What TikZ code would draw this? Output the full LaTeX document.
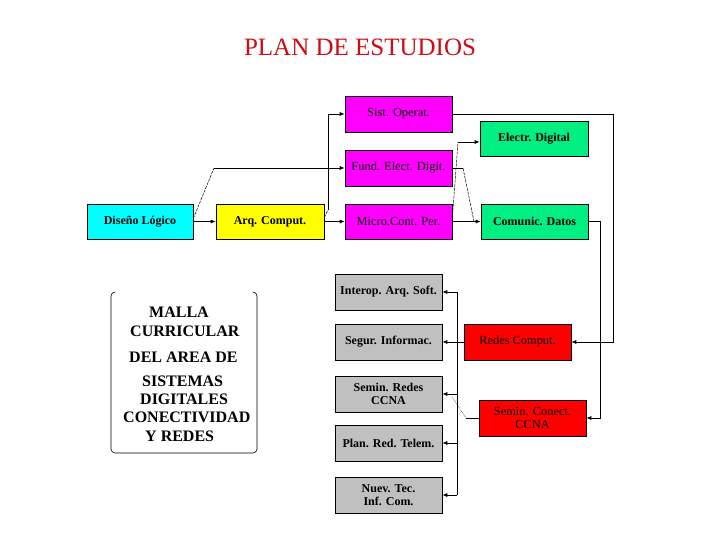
\documentclass[tikz,border=0pt]{standalone}
\usepackage{fontspec}
\setmainfont{Liberation Serif}
\usetikzlibrary{arrows.meta}
\definecolor{titred}{RGB}{205,12,20}
\definecolor{bcyan}{RGB}{0,255,255}
\definecolor{byellow}{RGB}{255,255,0}
\definecolor{bmag}{RGB}{255,0,255}
\definecolor{bgreen}{RGB}{0,238,130}
\definecolor{bred}{RGB}{255,0,0}
\definecolor{bgray}{RGB}{192,192,192}
\tikzset{
  box/.style={draw=black, line width=0.6pt, minimum width=107pt, minimum height=36pt,
    inner sep=1pt, align=center, font=\fontsize{12.4}{12.5}\selectfont},
  bbox/.style={box, font=\fontsize{12}{12.5}\selectfont\bfseries},
  conn/.style={line width=0.7pt},
  arr/.style={-{Latex[length=5pt,width=4pt]}, line width=0.7pt},
  diag/.style={line width=0.5pt, dash pattern=on 3pt off 1pt},
  malla/.style={anchor=base west, inner sep=0pt, font=\fontsize{16}{16}\selectfont\bfseries}
}
\begin{document}
\begin{tikzpicture}[x=1pt,y=-1pt]
\useasboundingbox (0,0) rectangle (720,540);
\node[anchor=base, text=titred, font=\fontsize{25}{26}\selectfont] (title) at (360,56) {PLAN DE ESTUDIOS};

% boxes
\node[bbox, fill=bcyan, minimum width=106pt, minimum height=35pt] (dis) at (140,221.5) {Diseño Lógico};
\node[bbox, fill=byellow, minimum width=108pt, minimum height=35pt] (arq) at (270,221.5) {Arq. Comput.};
\node[box, fill=bmag] (sist) at (398.5,114) {Sist. Operat.};
\node[box, fill=bmag] (fund) at (398.5,168) {Fund. Elect. Digit.};
\node[box, fill=bmag, minimum height=35pt] (micro) at (398.5,221.5) {Micro.Cont. Per.};
\node[bbox, fill=bgreen, minimum width=108pt, minimum height=35pt] (elec) at (534,138.5) {Electr. Digital};
\node[bbox, fill=bgreen, minimum height=35pt] (com) at (534.5,221.5) {Comunic. Datos};
\node[bbox, fill=bgray] (inter) at (388.5,292) {Interop. Arq. Soft.};
\node[bbox, fill=bgray] (segur) at (388.5,342) {Segur. Informac.};
\node[bbox, fill=bgray] (semr) at (388.5,394) {Semin. Redes\\CCNA};
\node[bbox, fill=bgray] (plan) at (388.5,443) {Plan. Red. Telem.};
\node[bbox, fill=bgray] (nuev) at (388.5,495) {Nuev. Tec.\\Inf. Com.};
\node[box, fill=bred] (redes) at (517.5,342) {Redes Comput.};
\node[box, fill=bred] (semc) at (532.5,418) {Semin. Conect.\\CCNA};

% malla box
\draw[line width=0.6pt, rounded corners=4pt] (115,292) -- (111,292) -- (111,453) -- (257,453) -- (257,292) -- (253,292);
\node[malla] (m1) at (149,317) {MALLA};
\node[malla] (m2) at (130,336) {CURRICULAR};
\node[malla] (m3) at (129,362) {DEL AREA DE};
\node[malla] (m4) at (142,386) {SISTEMAS};
\node[malla] (m5) at (140,404) {DIGITALES};
\node[malla] (m6) at (123,422) {CONECTIVIDAD};
\node[malla] (m7) at (145,441) {Y REDES};

% coordinates
\coordinate (c1) at (214,168);
\coordinate (c2) at (328,210);
\coordinate (c3) at (458,142);
\coordinate (c4) at (463,168);
\coordinate (c5) at (474,221.5);
\coordinate (c6) at (613,114);
\coordinate (c7) at (600,221.5);
\coordinate (bus) at (457,342);
\coordinate (c8) at (466,418);
\coordinate (c9) at (452,397);

% connectors
\draw[arr] (dis.east) -- (arq.west);
\draw[diag] ([yshift=3pt]dis.east) -- (c1);
\draw[arr] (c1) -- (fund.west);
\draw[diag] ([yshift=4pt]arq.east) -- (c2);
\draw[arr] (c2) |- (sist.west);
\draw[arr] (arq.east) -- (micro.west);
\draw[diag] ([yshift=3pt]micro.east) -- (c3);
\draw[arr] (c3) -- (c3 -| elec.west);
\draw[conn] (fund.east) -- (c4);
\draw[diag] (c4) -- (c5);
\draw[arr] (micro.east) -- (com.west);
\draw[arr] (sist.east) -- (c6) |- (redes.east);
\draw[arr] (com.east) -- (c7) |- (semc.east);
\draw[arr] (redes.west) -- (segur.east);
\draw[conn] (inter.east -| bus) -- (nuev.east -| bus);
\draw[arr] (inter.east -| bus) -- (inter.east);
\draw[arr] (semr.east -| bus) -- (semr.east);
\draw[arr] (plan.east -| bus) -- (plan.east);
\draw[arr] (nuev.east -| bus) -- (nuev.east);
\draw[conn] (semc.west) -- (c8);
\draw[line width=0.5pt, densely dotted] (c8) -- (c9);
\end{tikzpicture}
\end{document}
